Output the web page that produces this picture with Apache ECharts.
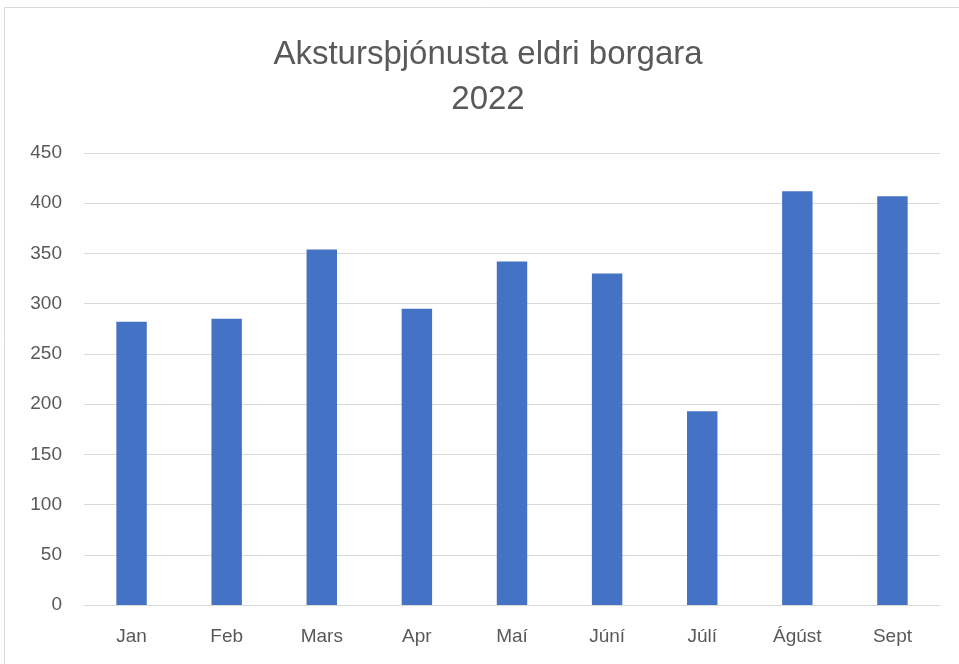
<!doctype html>
<html>
    <head>
        <meta charset="utf-8">
        <title>Akstursþjónusta eldri borgara 2022</title>
        <style>
            html, body { margin: 0; padding: 0; background: #fff; }
            #main { width: 959px; height: 664px; }
        </style>
    </head>
    <body>
        <div id="main"></div>
        <script src="https://cdn.jsdelivr.net/npm/echarts@6/dist/echarts.min.js"></script>
        <script>
            var months = ['Jan', 'Feb', 'Mars', 'Apr', 'Maí', 'Júní', 'Júlí', 'Ágúst', 'Sept'];
            var trips = [282, 285, 354, 295, 342, 330, 193, 412, 407];
            var yTicks = { min: 0, max: 450, interval: 50 };

            var chart = echarts.init(document.getElementById('main'));
            var textColor = '#595959';
            var font = 'Liberation Sans';

            chart.setOption({
                animation: false,
                graphic: [{
                    type: 'rect',
                    shape: { x: 4.5, y: 7.5, width: 1000, height: 1000 },
                    style: { fill: 'none', stroke: '#d9d9d9', lineWidth: 1 },
                    silent: true
                }],
                title: {
                    text: 'Akstursþjónusta eldri borgara\n2022',
                    left: 483,
                    textAlign: 'center',
                    top: 27,
                    textStyle: {
                        color: textColor,
                        fontFamily: font,
                        fontWeight: 'normal',
                        fontSize: 33,
                        lineHeight: 45
                    }
                },
                grid: {
                    left: 84,
                    right: 19,
                    top: 153,
                    bottom: 59
                },
                xAxis: {
                    type: 'category',
                    data: months,
                    axisLine: { lineStyle: { color: '#d9d9d9', width: 1 } },
                    axisTick: { show: false },
                    axisLabel: {
                        color: textColor,
                        fontFamily: font,
                        fontSize: 19,
                        margin: 22
                    }
                },
                yAxis: {
                    type: 'value',
                    min: yTicks.min,
                    max: yTicks.max,
                    interval: yTicks.interval,
                    axisLine: { show: false },
                    axisTick: { show: false },
                    splitLine: { lineStyle: { color: '#d9d9d9', width: 1 } },
                    axisLabel: {
                        color: textColor,
                        fontFamily: font,
                        fontSize: 19,
                        margin: 22
                    }
                },
                series: [{
                    type: 'bar',
                    data: trips,
                    barWidth: '32%',
                    itemStyle: { color: '#4472c4' }
                }]
            });
        </script>
    </body>
</html>
